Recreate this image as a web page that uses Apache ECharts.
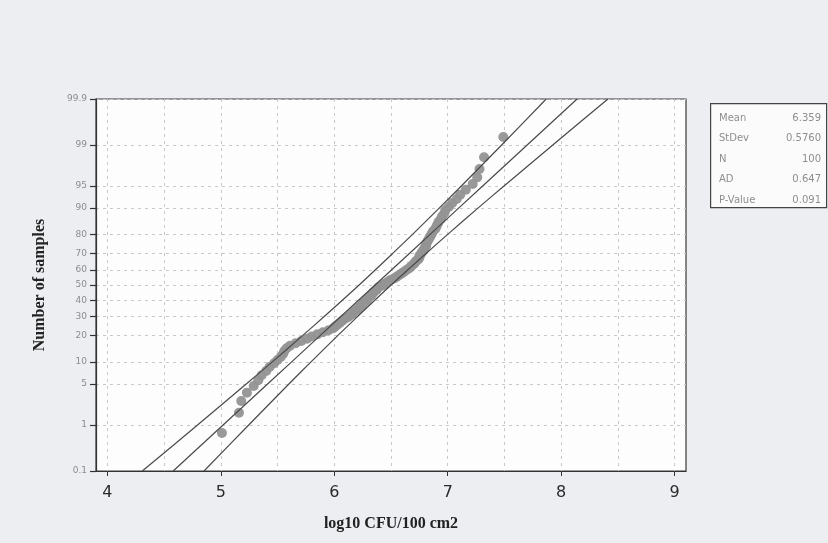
<!DOCTYPE html>
<html>
<head>
<meta charset="utf-8">
<script src="https://cdn.jsdelivr.net/npm/echarts@6/dist/echarts.min.js"></script>
<style>
  html, body { margin: 0; padding: 0; background: #eceef2; }
  #chart { width: 828px; height: 543px; }
</style>
</head>
<body>
<div id="chart"></div>
<script>
// probability axis labels (percent)
var probLevels = [0.1, 1, 5, 10, 20, 30, 40, 50, 60, 70, 80, 90, 95, 99, 99.9];
var xTickValues = [4, 5, 6, 7, 8, 9];
var xGridValues = [4, 4.5, 5, 5.5, 6, 6.5, 7, 7.5, 8, 8.5, 9];

// fitted line and confidence band, read at these percent levels
var bandPct = [0.1, 1, 5, 10, 20, 30, 50, 70, 80, 90, 95, 99, 99.9];
var fitX   = [4.580, 5.020, 5.412, 5.622, 5.875, 6.058, 6.360, 6.662, 6.845, 7.098, 7.308, 7.700, 8.140];
var lowerX = [4.308, 4.795, 5.224, 5.451, 5.720, 5.911, 6.219, 6.515, 6.690, 6.927, 7.120, 7.475, 7.868];
var upperX = [4.852, 5.246, 5.600, 5.793, 6.030, 6.205, 6.501, 6.809, 7.000, 7.269, 7.496, 7.926, 8.412];

// sorted sample values (log10 CFU/100 cm2)
var sampleX = [
  5.01, 5.16, 5.18, 5.23, 5.29, 5.33, 5.36, 5.40, 5.43, 5.47,
  5.50, 5.53, 5.55, 5.56, 5.58, 5.61, 5.66, 5.71, 5.76, 5.80,
  5.85, 5.90, 5.95, 5.99, 6.01, 6.03, 6.05, 6.07, 6.09, 6.12,
  6.14, 6.16, 6.17, 6.19, 6.21, 6.22, 6.24, 6.25, 6.26, 6.28,
  6.29, 6.30, 6.32, 6.33, 6.34, 6.35, 6.37, 6.38, 6.39, 6.42,
  6.44, 6.46, 6.48, 6.50, 6.53, 6.55, 6.57, 6.59, 6.61, 6.63,
  6.65, 6.67, 6.68, 6.70, 6.71, 6.72, 6.74, 6.75, 6.75, 6.76,
  6.77, 6.78, 6.79, 6.80, 6.81, 6.81, 6.82, 6.83, 6.84, 6.85,
  6.86, 6.87, 6.89, 6.90, 6.91, 6.92, 6.94, 6.95, 6.97, 6.98,
  7.01, 7.04, 7.08, 7.11, 7.16, 7.22, 7.26, 7.28, 7.32, 7.49
];

var statNames  = ['Mean', 'StDev', 'N', 'AD', 'P-Value'];
var statValues = ['6.359', '0.5760', '100', '0.647', '0.091'];

// inverse standard normal (Acklam)
function invNorm(p) {
    var a = [-3.969683028665376e+01, 2.209460984245205e+02, -2.759285104469687e+02, 1.383577518672690e+02, -3.066479806614716e+01, 2.506628277459239e+00];
    var b = [-5.447609879822406e+01, 1.615858368580409e+02, -1.556989798598866e+02, 6.680131188771972e+01, -1.328068155288572e+01];
    var c = [-7.784894002430293e-03, -3.223964580411365e-01, -2.400758277161838e+00, -2.549732539343734e+00, 4.374664141464968e+00, 2.938163982698783e+00];
    var d = [7.784695709041462e-03, 3.224671290700398e-01, 2.445134137142996e+00, 3.754408661907416e+00];
    var pl = 0.02425, q, r;
    if (p < pl) {
        q = Math.sqrt(-2 * Math.log(p));
        return (((((c[0]*q+c[1])*q+c[2])*q+c[3])*q+c[4])*q+c[5]) / ((((d[0]*q+d[1])*q+d[2])*q+d[3])*q+1);
    }
    if (p > 1 - pl) {
        q = Math.sqrt(-2 * Math.log(1 - p));
        return -(((((c[0]*q+c[1])*q+c[2])*q+c[3])*q+c[4])*q+c[5]) / ((((d[0]*q+d[1])*q+d[2])*q+d[3])*q+1);
    }
    q = p - 0.5; r = q * q;
    return (((((a[0]*r+a[1])*r+a[2])*r+a[3])*r+a[4])*r+a[5])*q / (((((b[0]*r+b[1])*r+b[2])*r+b[3])*r+b[4])*r+1);
}

var probZ = probLevels.map(function (p) { return invNorm(p / 100); });
var zMin = probZ[0], zMax = probZ[probZ.length - 1];

function labelFor(z) {
    var best = 0;
    for (var i = 1; i < probZ.length; i++) {
        if (Math.abs(probZ[i] - z) < Math.abs(probZ[best] - z)) best = i;
    }
    return String(probLevels[best]);
}

function bandData(xs) {
    return xs.map(function (x, i) { return [x, invNorm(bandPct[i] / 100)]; });
}

// median-rank plotting positions
var n = sampleX.length;
var pointData = sampleX.map(function (x, i) {
    return [x, invNorm((i + 1 - 0.3) / (n + 0.4))];
});

var lineStyle = { color: '#4a4a4a', width: 1.2 };

var statGraphics = [{
    type: 'rect',
    left: 710, top: 103,
    shape: { width: 116, height: 104 },
    style: { fill: '#fbfbfb', stroke: '#444', lineWidth: 1.2 }
}];
statNames.forEach(function (name, i) {
    statGraphics.push({
        type: 'text', left: 719, top: 113 + i * 20.5,
        style: { text: name, fill: '#8e8e8e', font: '10px "DejaVu Sans"' }
    });
    statGraphics.push({
        type: 'text', right: 7, top: 113 + i * 20.5,
        style: { text: statValues[i], fill: '#8e8e8e', font: '10px "DejaVu Sans"', align: 'right' }
    });
});

var chart = echarts.init(document.getElementById('chart'));
var option = {
    backgroundColor: '#eceef2',
    animation: false,
    grid: {
        left: 96, right: 142, top: 99, bottom: 72,
        show: true, backgroundColor: '#fdfdfd', borderColor: '#3a3a3a', borderWidth: 1.2
    },
    xAxis: [{
        type: 'value', min: 3.9, max: 9.1,
        axisLine: { show: false },
        axisLabel: { show: false },
        axisTick: { show: false, customValues: xGridValues },
        splitLine: { show: true, lineStyle: { color: '#c8c8c8', type: [3, 4], width: 1 } }
    }, {
        type: 'value', min: 3.9, max: 9.1, position: 'bottom',
        axisLine: { show: true, onZero: false, lineStyle: { color: '#333', width: 1.2 } },
        axisTick: { show: true, length: 5, customValues: xTickValues, lineStyle: { color: '#333' } },
        axisLabel: { customValues: xTickValues, color: '#2a2a2a', fontSize: 16, fontFamily: 'DejaVu Sans', margin: 14 },
        splitLine: { show: false },
        name: 'log10 CFU/100 cm2', nameLocation: 'middle', nameGap: 45,
        nameTextStyle: { fontFamily: 'Liberation Serif', fontWeight: 'bold', fontSize: 16, color: '#222' }
    }],
    yAxis: {
        type: 'value', min: zMin, max: zMax,
        axisLine: { show: true, lineStyle: { color: '#333', width: 1.2 } },
        axisTick: { show: true, length: 6, customValues: probZ, lineStyle: { color: '#333', width: 1.2 } },
        axisLabel: {
            customValues: probZ, color: '#8c8c8c', fontSize: 9, fontFamily: 'DejaVu Sans', margin: 9,
            formatter: function (v) { return labelFor(v); }
        },
        splitLine: { show: true, lineStyle: { color: '#c8c8c8', type: [3, 4], width: 1 } },
        name: 'Number of samples', nameLocation: 'middle', nameGap: 48, nameRotate: 90,
        nameTextStyle: { fontFamily: 'Liberation Serif', fontWeight: 'bold', fontSize: 16, color: '#222' }
    },
    graphic: statGraphics,
    series: [{
        type: 'line', xAxisIndex: 0, data: bandData(lowerX), symbol: 'none', smooth: 0.3,
        lineStyle: lineStyle, clip: true, silent: true
    }, {
        type: 'line', xAxisIndex: 0, data: bandData(fitX), symbol: 'none',
        lineStyle: lineStyle, clip: true, silent: true
    }, {
        type: 'line', xAxisIndex: 0, data: bandData(upperX), symbol: 'none', smooth: 0.3,
        lineStyle: lineStyle, clip: true, silent: true
    }, {
        type: 'scatter', xAxisIndex: 0, data: pointData, symbolSize: 10,
        itemStyle: { color: '#939393', opacity: 0.95 }
    }]
};
chart.setOption(option);
</script>
</body>
</html>
